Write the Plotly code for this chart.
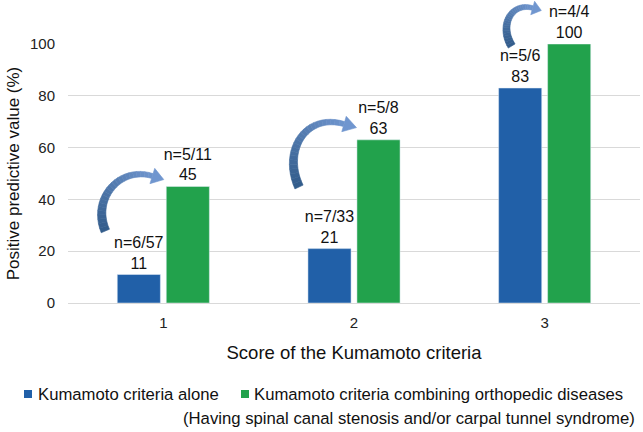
import plotly.graph_objects as go

# ---------------- data ----------------
categories = ["1", "2", "3"]
alone_values = [11, 21, 83]
alone_counts = ["n=6/57", "n=7/33", "n=5/6"]
combined_values = [45, 63, 100]
combined_counts = ["n=5/11", "n=5/8", "n=4/4"]
series_names = ["Kumamoto criteria alone",
                "Kumamoto criteria combining orthopedic diseases"]
legend_note = "(Having spinal canal stenosis and/or carpal tunnel syndrome)"
y_ticks = [0, 20, 40, 60, 80, 100]

# ---------------- layout constants ----------------
W, H = 643, 432
ML, MR, MT, MB = 68, 3, 44, 129
PW, PH = W - ML - MR, H - MT - MB
FONT = "Liberation Sans, Arial, sans-serif"
BLUE = "#2160a8"
GREEN = "#22a24c"


def px2paper(x, y):
    return (x - ML) / PW, (H - MB - y) / PH


fig = go.Figure()
fig.add_trace(go.Bar(
    x=categories, y=alone_values, name=series_names[0], marker_color=BLUE,
    text=[f"{c}<br>{v}" for c, v in zip(alone_counts, alone_values)],
    textposition="outside", constraintext="none", cliponaxis=False,
    textfont=dict(size=16, color="#111"), showlegend=False))
fig.add_trace(go.Bar(
    x=categories, y=combined_values, name=series_names[1], marker_color=GREEN,
    text=[f"{c}<br>{v}" for c, v in zip(combined_counts, combined_values)],
    textposition="outside", constraintext="none", cliponaxis=False,
    textfont=dict(size=16, color="#111"), showlegend=False))

# ---------------- curved arrows (decoration) ----------------
# control points in px: (offset from category centre, absolute y px)
arrows = [
    dict(g=0, P=[(-58, 231), (-72, 198), (-43, 166), (-11, 176)], L=12, hw=8, w0=9, w1=5),
    dict(g=1, P=[(-55, 187), (-72, 150), (-48, 113), (-10, 124)], L=13, hw=8, w0=9, w1=5),
    dict(g=2, P=[(-33, 46), (-46, 25), (-33, 2), (-12, 8)], L=9, hw=7, w0=8, w1=4.5),
]
C0 = (0x33, 0x5d, 0x8c)
C1 = (0x70, 0x96, 0xcf)


def lerp_col(t):
    return "rgb(%d,%d,%d)" % tuple(round(a + (b - a) * t) for a, b in zip(C0, C1))


shapes = []
for a in arrows:
    cx = ML + (a["g"] + 0.5) * PW / len(categories)
    P = [(cx + dx, y) for dx, y in a["P"]]
    N = 24
    pts, nors = [], []
    for k in range(N + 1):
        t = k / N
        mt = 1 - t
        x = mt**3 * P[0][0] + 3 * mt**2 * t * P[1][0] + 3 * mt * t**2 * P[2][0] + t**3 * P[3][0]
        y = mt**3 * P[0][1] + 3 * mt**2 * t * P[1][1] + 3 * mt * t**2 * P[2][1] + t**3 * P[3][1]
        dx = 3 * mt**2 * (P[1][0] - P[0][0]) + 6 * mt * t * (P[2][0] - P[1][0]) + 3 * t**2 * (P[3][0] - P[2][0])
        dy = 3 * mt**2 * (P[1][1] - P[0][1]) + 6 * mt * t * (P[2][1] - P[1][1]) + 3 * t**2 * (P[3][1] - P[2][1])
        n = (dx * dx + dy * dy) ** 0.5
        pts.append((x, y))
        nors.append((-dy / n, dx / n, dx / n, dy / n))
    left, right = [], []
    for k, ((x, y), (nx, ny, ux, uy)) in enumerate(zip(pts, nors)):
        w = (a["w0"] + (a["w1"] - a["w0"]) * k / N) / 2
        left.append((x + nx * w, y + ny * w))
        right.append((x - nx * w, y - ny * w))
    for k in range(N):
        quad = [left[k], left[k + 1], right[k + 1], right[k]]
        path = "M " + " L ".join("%.5f,%.5f" % px2paper(*p) for p in quad) + " Z"
        col = lerp_col(k / N)
        shapes.append(dict(type="path", path=path, xref="paper", yref="paper",
                           fillcolor=col, line=dict(color=col, width=0.6), layer="above"))
    bx, by = pts[-1]
    nx, ny, ux, uy = nors[-1]
    head = [(bx + nx * a["hw"], by + ny * a["hw"]),
            (bx + ux * a["L"], by + uy * a["L"]),
            (bx - nx * a["hw"], by - ny * a["hw"])]
    path = "M " + " L ".join("%.5f,%.5f" % px2paper(*p) for p in head) + " Z"
    shapes.append(dict(type="path", path=path, xref="paper", yref="paper",
                       fillcolor=lerp_col(1), line=dict(color=lerp_col(1), width=0.6), layer="above"))

# ---------------- manual legend ----------------
annotations = []
legend_items = [(24, 36, BLUE, series_names[0]), (241, 252, GREEN, series_names[1])]
for sx, tx, col, label in legend_items:
    x0, y0 = px2paper(sx, 398)
    x1, y1 = px2paper(sx + 8, 390)
    shapes.append(dict(type="rect", xref="paper", yref="paper", x0=x0, x1=x1, y0=y0, y1=y1,
                       fillcolor=col, line=dict(width=0)))
    ax_, ay_ = px2paper(tx, 394)
    annotations.append(dict(text=label, xref="paper", yref="paper", x=ax_, y=ay_,
                            xanchor="left", yanchor="middle", showarrow=False,
                            font=dict(size=16.7, color="#111", family=FONT)))
nx_, ny_ = px2paper(181, 418)
annotations.append(dict(text=legend_note, xref="paper", yref="paper", x=nx_, y=ny_,
                        xanchor="left", yanchor="middle", showarrow=False,
                        font=dict(size=16.7, color="#111", family=FONT)))

fig.update_layout(
    width=W, height=H,
    margin=dict(l=ML, r=MR, t=MT, b=MB, autoexpand=False),
    paper_bgcolor="white", plot_bgcolor="white",
    font=dict(family=FONT, size=15, color="#222"),
    barmode="group", bargap=0.486, bargroupgap=0.12,
    showlegend=False,
    shapes=shapes, annotations=annotations,
    xaxis=dict(showgrid=False, showline=False, zeroline=False,
               tickfont=dict(size=15, color="#222"), ticklabelstandoff=9,
               title=dict(text="Score of the Kumamoto criteria",
                          font=dict(size=18.5, color="#111"), standoff=16)),
    yaxis=dict(range=[0, 100], tickvals=y_ticks, showline=False,
               gridcolor="#d9d9d9", gridwidth=1, zeroline=True,
               zerolinecolor="#d9d9d9", zerolinewidth=1,
               tickfont=dict(size=15, color="#222"), ticklabelstandoff=12,
               title=dict(text="Positive predictive value (%)",
                          font=dict(size=17, color="#111"), standoff=6)),
)

fig.write_html("out.html", config={"displayModeBar": False},
               post_script="document.body.style.margin='0';document.body.style.overflow='hidden';")
